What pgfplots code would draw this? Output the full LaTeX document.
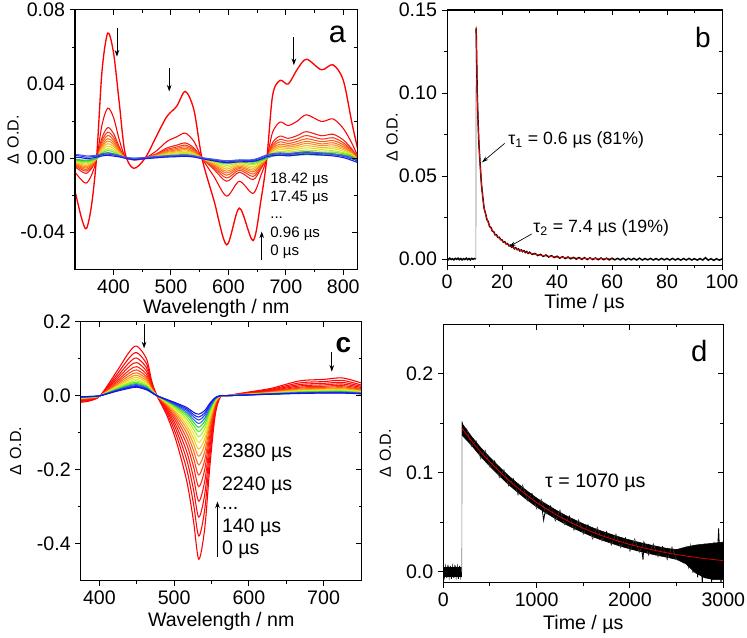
\documentclass[border=0pt]{standalone}
\usepackage{fontspec}
\setmainfont{Liberation Sans}
\usepackage{pgfplots}
\pgfplotsset{compat=1.18}
\usepackage{pgfplotstable}
\usetikzlibrary{arrows.meta}

\newcommand\tfs{\fontsize{14.7}{17}\selectfont}
\newcommand\lfs{\fontsize{12}{14}\selectfont}
\newcommand\afs{\fontsize{11.3}{13}\selectfont}
\newcommand\bfs{\fontsize{13.3}{15}\selectfont}

\definecolor{a0}{RGB}{255,0,0}
\definecolor{a2}{RGB}{242,30,25}
\definecolor{a3}{RGB}{246,60,25}
\definecolor{a4}{RGB}{250,90,25}
\definecolor{a5}{RGB}{250,115,30}
\definecolor{a6}{RGB}{250,145,30}
\definecolor{a7}{RGB}{245,185,35}
\definecolor{a8}{RGB}{225,220,40}
\definecolor{a9}{RGB}{185,230,45}
\definecolor{a10}{RGB}{125,225,40}
\definecolor{a11}{RGB}{60,210,45}
\definecolor{a12}{RGB}{40,190,90}
\definecolor{ab1}{RGB}{50,60,225}
\definecolor{ab2}{RGB}{25,25,235}
\definecolor{ab3}{RGB}{70,90,230}

\definecolor{k0}{RGB}{255,0,0}
\definecolor{k1}{RGB}{255,5,5}
\definecolor{k2}{RGB}{255,10,10}
\definecolor{k3}{RGB}{255,20,10}
\definecolor{k4}{RGB}{255,35,15}
\definecolor{k5}{RGB}{255,65,20}
\definecolor{k6}{RGB}{255,105,20}
\definecolor{k7}{RGB}{250,150,25}
\definecolor{k8}{RGB}{245,200,30}
\definecolor{k9}{RGB}{225,240,40}
\definecolor{k10}{RGB}{170,240,40}
\definecolor{k11}{RGB}{100,235,40}
\definecolor{k12}{RGB}{40,220,45}
\definecolor{k13}{RGB}{60,100,235}
\definecolor{k14}{RGB}{40,70,240}
\definecolor{k15}{RGB}{30,40,240}
\definecolor{k16}{RGB}{20,20,225}

\pgfplotstableread{
x    c0      c1      c2      c3      c4      c5      c6      c7      c8      c9      c10     c11     c12     b1      b2      b3
334 -0.0190 -0.0080 -0.0049 -0.0042 -0.0036 -0.0031 -0.0027 -0.0023 -0.0019 -0.0015 -0.0012 -0.0009 -0.0006  0.0015  0.0005  0.0020
345 -0.0330 -0.0120 -0.0073 -0.0062 -0.0054 -0.0047 -0.0041 -0.0035 -0.0029 -0.0023 -0.0018 -0.0013 -0.0010  0.0010  0.0002  0.0016
353 -0.0380 -0.0135 -0.0082 -0.0070 -0.0061 -0.0053 -0.0046 -0.0039 -0.0032 -0.0026 -0.0020 -0.0015 -0.0011  0.0005 -0.0003  0.0012
362 -0.0250 -0.0090 -0.0055 -0.0047 -0.0041 -0.0035 -0.0031 -0.0026 -0.0022 -0.0017 -0.0014 -0.0010 -0.0007  0.0008  0.0000  0.0013
371  0.0020  0.0000  0.0000  0.0000  0.0000  0.0000  0.0000  0.0000  0.0000  0.0000  0.0000  0.0000  0.0000  0.0012  0.0006  0.0016
380  0.0470  0.0180  0.0110  0.0094  0.0081  0.0070  0.0061  0.0052  0.0043  0.0034  0.0027  0.0020  0.0014  0.0020  0.0012  0.0024
390  0.0675  0.0270  0.0165  0.0140  0.0122  0.0105  0.0092  0.0078  0.0065  0.0051  0.0041  0.0030  0.0022  0.0022  0.0015  0.0028
400  0.0570  0.0220  0.0134  0.0114  0.0099  0.0086  0.0075  0.0064  0.0053  0.0042  0.0033  0.0024  0.0018  0.0018  0.0011  0.0022
410  0.0300  0.0100  0.0061  0.0052  0.0045  0.0039  0.0034  0.0029  0.0024  0.0019  0.0015  0.0011  0.0008  0.0012  0.0007  0.0015
420  0.0030  0.0010  0.0006  0.0005  0.0005  0.0004  0.0003  0.0003  0.0002  0.0002  0.0002  0.0001  0.0001  0.0003  0.0000  0.0006
435 -0.0055 -0.0010 -0.0006 -0.0005 -0.0005 -0.0004 -0.0003 -0.0003 -0.0002 -0.0002 -0.0002 -0.0001 -0.0001 -0.0005 -0.0008  0.0000
455  0.0000  0.0000  0.0000  0.0000  0.0000  0.0000  0.0000  0.0000  0.0000  0.0000  0.0000  0.0000  0.0000  0.0000 -0.0003  0.0004
475  0.0120  0.0040  0.0024  0.0021  0.0018  0.0016  0.0014  0.0012  0.0010  0.0008  0.0006  0.0004  0.0003  0.0006  0.0002  0.0009
493  0.0225  0.0090  0.0055  0.0047  0.0041  0.0035  0.0031  0.0026  0.0022  0.0017  0.0014  0.0010  0.0007  0.0010  0.0006  0.0013
510  0.0280  0.0115  0.0070  0.0060  0.0052  0.0045  0.0039  0.0033  0.0028  0.0022  0.0017  0.0013  0.0009  0.0013  0.0008  0.0016
525  0.0360  0.0135  0.0082  0.0070  0.0061  0.0053  0.0046  0.0039  0.0032  0.0026  0.0020  0.0015  0.0011  0.0015  0.0010  0.0018
540  0.0260  0.0090  0.0055  0.0047  0.0041  0.0035  0.0031  0.0026  0.0022  0.0017  0.0014  0.0010  0.0007  0.0010  0.0006  0.0013
554  0.0000  0.0000  0.0000  0.0000  0.0000  0.0000  0.0000  0.0000  0.0000  0.0000  0.0000  0.0000  0.0000  0.0000 -0.0003  0.0003
575 -0.0230 -0.0100 -0.0061 -0.0052 -0.0045 -0.0039 -0.0034 -0.0029 -0.0024 -0.0019 -0.0015 -0.0011 -0.0008 -0.0010 -0.0015 -0.0006
597 -0.0468 -0.0205 -0.0125 -0.0107 -0.0092 -0.0080 -0.0070 -0.0059 -0.0049 -0.0039 -0.0031 -0.0023 -0.0016 -0.0020 -0.0025 -0.0014
619 -0.0270 -0.0125 -0.0076 -0.0065 -0.0056 -0.0049 -0.0043 -0.0036 -0.0030 -0.0024 -0.0019 -0.0014 -0.0010 -0.0014 -0.0020 -0.0010
643 -0.0445 -0.0190 -0.0116 -0.0099 -0.0086 -0.0074 -0.0065 -0.0055 -0.0046 -0.0036 -0.0029 -0.0021 -0.0015 -0.0012 -0.0018 -0.0008
657 -0.0220 -0.0090 -0.0055 -0.0047 -0.0041 -0.0035 -0.0031 -0.0026 -0.0022 -0.0017 -0.0014 -0.0010 -0.0007  0.0002 -0.0005  0.0006
667  0.0000  0.0000  0.0000  0.0000  0.0000  0.0000  0.0000  0.0000  0.0000  0.0000  0.0000  0.0000  0.0000  0.0015  0.0008  0.0018
677  0.0340  0.0140  0.0085  0.0073  0.0063  0.0055  0.0048  0.0041  0.0034  0.0027  0.0021  0.0015  0.0011  0.0020  0.0013  0.0024
690  0.0420  0.0195  0.0119  0.0101  0.0088  0.0076  0.0066  0.0057  0.0047  0.0037  0.0029  0.0021  0.0016  0.0024  0.0016  0.0028
704  0.0400  0.0176  0.0107  0.0092  0.0079  0.0069  0.0060  0.0051  0.0042  0.0033  0.0026  0.0019  0.0014  0.0020  0.0012  0.0025
720  0.0480  0.0200  0.0122  0.0104  0.0090  0.0078  0.0068  0.0058  0.0048  0.0038  0.0030  0.0022  0.0016  0.0026  0.0018  0.0030
736  0.0534  0.0234  0.0143  0.0122  0.0105  0.0091  0.0080  0.0068  0.0056  0.0044  0.0035  0.0026  0.0019  0.0030  0.0022  0.0034
762  0.0477  0.0198  0.0121  0.0103  0.0089  0.0077  0.0067  0.0057  0.0048  0.0038  0.0030  0.0022  0.0016  0.0024  0.0017  0.0028
782  0.0504  0.0212  0.0129  0.0110  0.0095  0.0083  0.0072  0.0061  0.0051  0.0040  0.0032  0.0023  0.0017  0.0020  0.0012  0.0023
800  0.0420  0.0160  0.0098  0.0083  0.0072  0.0062  0.0054  0.0046  0.0038  0.0030  0.0024  0.0018  0.0013  0.0010  0.0003  0.0014
815  0.0190  0.0080  0.0049  0.0042  0.0036  0.0031  0.0027  0.0023  0.0019  0.0015  0.0012  0.0009  0.0006 -0.0004 -0.0012  0.0002
826  0.0036  0.0005  0.0000 -0.0005 -0.0008 -0.0010 -0.0012 -0.0014 -0.0016 -0.0018 -0.0020 -0.0022 -0.0024 -0.0015 -0.0025 -0.0008
}\tabA

\pgfplotstableread{
x   r0     r1      r2      r3      r4      r5      r6      r7      r8      r9      r10     r11     r12     r13     r14     r15     r16
374 -0.018 -0.0156 -0.0137 -0.0120 -0.0105 -0.0093 -0.0083 -0.0074 -0.0066 -0.0059 -0.0053 -0.0048 -0.0044 -0.0040 -0.0036 -0.0033 -0.003
387 -0.014 -0.0121 -0.0105 -0.0092 -0.0080 -0.0070 -0.0062 -0.0055 -0.0049 -0.0043 -0.0039 -0.0034 -0.0031 -0.0028 -0.0025 -0.0022 -0.002
401  0.000  0.0000  0.0000  0.0000  0.0000  0.0000  0.0000  0.0000  0.0000  0.0000  0.0000  0.0000  0.0000  0.0000  0.0000  0.0000  0.000
423  0.065  0.0565  0.0496  0.0438  0.0385  0.0343  0.0306  0.0274  0.0247  0.0223  0.0202  0.0184  0.0168  0.0154  0.0141  0.0131  0.012
440  0.118  0.1023  0.0896  0.0788  0.0690  0.0612  0.0543  0.0484  0.0435  0.0391  0.0352  0.0318  0.0288  0.0264  0.0239  0.0220  0.020
450  0.134  0.1162  0.1018  0.0896  0.0785  0.0696  0.0619  0.0552  0.0496  0.0446  0.0402  0.0363  0.0330  0.0302  0.0274  0.0252  0.023
463  0.100  0.0866  0.0756  0.0664  0.0580  0.0513  0.0454  0.0404  0.0362  0.0324  0.0290  0.0261  0.0236  0.0215  0.0194  0.0177  0.016
470  0.040  0.0349  0.0307  0.0272  0.0240  0.0214  0.0192  0.0173  0.0157  0.0142  0.0130  0.0118  0.0109  0.0101  0.0093  0.0086  0.008
477  0.000  0.0000  0.0000  0.0000  0.0000  0.0000  0.0000  0.0000  0.0000  0.0000  0.0000  0.0000  0.0000  0.0000  0.0000  0.0000  0.000
490 -0.052 -0.0453 -0.0398 -0.0352 -0.0310 -0.0276 -0.0247 -0.0222 -0.0201 -0.0182 -0.0165 -0.0150 -0.0138 -0.0127 -0.0117 -0.0108 -0.010
503 -0.124 -0.1074 -0.0938 -0.0824 -0.0720 -0.0637 -0.0564 -0.0502 -0.0450 -0.0403 -0.0361 -0.0325 -0.0294 -0.0268 -0.0242 -0.0221 -0.020
517 -0.232 -0.2000 -0.1740 -0.1520 -0.1320 -0.1160 -0.1020 -0.0900 -0.0800 -0.0710 -0.0630 -0.0560 -0.0500 -0.0450 -0.0400 -0.0360 -0.032
526 -0.340 -0.2928 -0.2545 -0.2220 -0.1925 -0.1689 -0.1483 -0.1306 -0.1158 -0.1025 -0.0907 -0.0804 -0.0716 -0.0642 -0.0568 -0.0509 -0.045
533 -0.442 -0.3793 -0.3283 -0.2852 -0.2460 -0.2146 -0.1872 -0.1637 -0.1441 -0.1264 -0.1108 -0.0970 -0.0853 -0.0755 -0.0657 -0.0578 -0.050
541 -0.358 -0.3071 -0.2658 -0.2308 -0.1990 -0.1736 -0.1513 -0.1322 -0.1163 -0.1020 -0.0893 -0.0782 -0.0686 -0.0607 -0.0527 -0.0464 -0.040
548 -0.187 -0.1603 -0.1386 -0.1202 -0.1035 -0.0901 -0.0785 -0.0684 -0.0601 -0.0526 -0.0459 -0.0400 -0.0350 -0.0309 -0.0267 -0.0233 -0.020
555 -0.052 -0.0445 -0.0384 -0.0332 -0.0285 -0.0247 -0.0215 -0.0186 -0.0163 -0.0142 -0.0123 -0.0106 -0.0092 -0.0081 -0.0069 -0.0059 -0.005
562 -0.003 -0.0025 -0.0021 -0.0018 -0.0015 -0.0013 -0.0011 -0.0009 -0.0007 -0.0006 -0.0005 -0.0004 -0.0003 -0.0002 -0.0001 -0.0001  0.000
570  0.000  0.0000  0.0000  0.0000  0.0000  0.0000  0.0000  0.0000  0.0000  0.0000  0.0000  0.0000  0.0000  0.0000  0.0000  0.0000  0.000
600  0.010  0.0087  0.0077  0.0068  0.0060  0.0054  0.0048  0.0043  0.0039  0.0036  0.0032  0.0030  0.0027  0.0025  0.0023  0.0022  0.002
630  0.020  0.0174  0.0154  0.0136  0.0120  0.0107  0.0096  0.0086  0.0078  0.0071  0.0065  0.0059  0.0054  0.0050  0.0046  0.0043  0.004
668  0.040  0.0346  0.0301  0.0264  0.0230  0.0203  0.0179  0.0159  0.0142  0.0126  0.0113  0.0101  0.0091  0.0082  0.0074  0.0067  0.006
700  0.044  0.0381  0.0333  0.0292  0.0255  0.0225  0.0200  0.0177  0.0159  0.0142  0.0127  0.0114  0.0103  0.0094  0.0085  0.0077  0.007
725  0.048  0.0414  0.0361  0.0316  0.0275  0.0242  0.0214  0.0189  0.0168  0.0150  0.0134  0.0119  0.0107  0.0097  0.0086  0.0078  0.007
751  0.034  0.0285  0.0249  0.0218  0.0190  0.0168  0.0148  0.0131  0.0117  0.0105  0.0093  0.0084  0.0075  0.0068  0.0061  0.0056  0.005
}\tabC

\pgfplotsset{
  base/.style={scale only axis, anchor=south west, clip=true,
    axis line style={line width=0.75pt},
    every tick/.style={line width=0.75pt, black},
    major tick length=4pt, minor tick length=2.4pt,
    scaled x ticks=false, scaled y ticks=false,
    /pgf/number format/assume math mode=true,
    /pgf/number format/1000 sep={},
    ticklabel style={font=\tfs}},
  main/.style={base, tick align=outside, xtick pos=left, ytick pos=left},
  mirror/.style={base, tick align=inside, xtick pos=right, ytick pos=right, xticklabels={}, yticklabels={}},
  xl/.style={every axis x label/.style={at={(rel axis cs:0.5,0)}, anchor=center, font=\tfs, yshift=#1}},
  yl/.style={every axis y label/.style={at={(rel axis cs:0,0.5)}, anchor=center, font=\lfs, xshift=#1, rotate=90}},
  yfmt/.style={yticklabel style={/pgf/number format/fixed, /pgf/number format/fixed zerofill, /pgf/number format/precision=#1}},
  pa/.style={at={(56.25pt,275.78pt)}, width=212pt, height=194.5pt, xmin=333, xmax=825, ymin=-0.06, ymax=0.08,
    xtick={400,500,600,700,800}, minor x tick num=1, ytick={-0.04,0,0.04,0.08}, minor y tick num=1},
  pb/.style={at={(335.25pt,279pt)}, width=206.25pt, height=191.25pt, xmin=0, xmax=100, ymin=-0.0036, ymax=0.15,
    xtick={0,20,40,60,80,100}, minor x tick num=1, ytick={0,0.05,0.1,0.15}, minor y tick num=1},
  pc/.style={at={(60.53pt,42.23pt)}, width=210.75pt, height=194.25pt, xmin=375, xmax=751, ymin=-0.5, ymax=0.2,
    xtick={400,500,600,700}, minor x tick num=1, ytick={-0.4,-0.2,0,0.2}, minor y tick num=1},
  pd/.style={at={(332.48pt,40.73pt)}, width=210pt, height=193.8pt, xmin=0, xmax=3000, ymin=-0.011, ymax=0.25,
    xtick={0,1000,2000,3000}, minor x tick num=1, ytick={0,0.1,0.2}, minor y tick num=1},
  sp/.style={line width=0.8pt, smooth, tension=0.5},
}

\begin{document}
\begin{tikzpicture}
\path[use as bounding box] (0,0) rectangle (560.25pt,477.75pt);

% ---------------- panel a ----------------
\begin{axis}[main, pa, yfmt=2, xl=-29.25pt, yl=-46.5pt, xlabel={Wavelength / nm}, ylabel={Δ\,\,O.D.}]
\addplot[sp, a0, line width=1pt] table[x=x,y=c0] \tabA;
\addplot[sp, a0] table[x=x,y=c1] \tabA;
\addplot[sp, a2] table[x=x,y=c2] \tabA;
\addplot[sp, a3] table[x=x,y=c3] \tabA;
\addplot[sp, a4] table[x=x,y=c4] \tabA;
\addplot[sp, a5] table[x=x,y=c5] \tabA;
\addplot[sp, a6] table[x=x,y=c6] \tabA;
\addplot[sp, a7] table[x=x,y=c7] \tabA;
\addplot[sp, a8] table[x=x,y=c8] \tabA;
\addplot[sp, a9] table[x=x,y=c9] \tabA;
\addplot[sp, a10] table[x=x,y=c10] \tabA;
\addplot[sp, a11] table[x=x,y=c11] \tabA;
\addplot[sp, a12] table[x=x,y=c12] \tabA;
\addplot[sp, ab1] table[x=x,y=b1] \tabA;
\addplot[sp, ab2] table[x=x,y=b2] \tabA;
\addplot[sp, ab3] table[x=x,y=b3] \tabA;
\draw[-{Stealth[length=5pt,width=3.5pt]}, line width=0.6pt] (axis cs:406,0.0702) -- (axis cs:406,0.0548);
\draw[-{Stealth[length=5pt,width=3.5pt]}, line width=0.6pt] (axis cs:497,0.0489) -- (axis cs:497,0.0360);
\draw[-{Stealth[length=5pt,width=3.5pt]}, line width=0.6pt] (axis cs:714,0.0653) -- (axis cs:714,0.0502);
\draw[-{Stealth[length=5pt,width=3.5pt]}, line width=0.6pt] (axis cs:658,-0.0549) -- (axis cs:658,-0.0396);
\node[anchor=base west, font=\afs, inner sep=0pt] at (axis cs:672.5,-0.0137) {18.42 µs};
\node[anchor=base west, font=\afs, inner sep=0pt] at (axis cs:672.5,-0.0236) {17.45 µs};
\node[anchor=base west, font=\afs, inner sep=0pt] at (axis cs:672.5,-0.0324) {...};
\node[anchor=base west, font=\afs, inner sep=0pt] at (axis cs:672.5,-0.0429) {0.96 µs};
\node[anchor=base west, font=\afs, inner sep=0pt] at (axis cs:672.5,-0.0524) {0 µs};
\node[font=\fontsize{23}{23}\selectfont] at (axis cs:789.6,0.0669) {a};
\end{axis}
\begin{axis}[mirror, pa]\end{axis}

% ---------------- panel b ----------------
\begin{axis}[main, pb, yfmt=2, xl=-28.5pt, yl=-41.25pt, xlabel={Time / µs}, ylabel={Δ\,\,O.D.}]
\addplot[black, line width=1.1pt] coordinates {
(0,0.0003) (0.5,-0.0004) (1,0.0005) (1.5,-0.0003) (2,0.0002) (2.5,-0.0005) (3,0.0004) (3.5,-0.0002)
(4,0.0005) (4.5,-0.0004) (5,0.0003) (5.5,-0.0005) (6,0.0002) (6.5,-0.0003) (7,0.0005) (7.5,-0.0004)
(8,0.0003) (8.5,-0.0005) (9,0.0004) (9.5,-0.0002) (10,0.0003) (10.5,0)};
\addplot[gray, line width=0.5pt] coordinates {(10.5,0) (10.6,0.14)};
\addplot[black, line width=1.1pt] coordinates {
(10.6,0.139) (10.8,0.119) (11.0,0.0995) (11.3,0.0825) (11.6,0.0695) (12.0,0.0585) (12.5,0.0455) (13.0,0.0375)
(13.5,0.0305) (14.0,0.0275) (14.5,0.0238) (15.0,0.0225) (15.5,0.0195) (16.0,0.019) (16.5,0.0168) (17.0,0.0165)
(17.5,0.0145) (18.0,0.0146) (18.5,0.013) (19,0.0131) (19.5,0.0117) (20,0.0115) (20.5,0.0101) (21,0.0104)
(21.5,0.0091) (22,0.0093) (22.5,0.0080) (23,0.0084) (23.5,0.0071) (24,0.0076) (24.5,0.0062) (25,0.0068)
(25.5,0.0056) (26,0.0061) (26.5,0.0049) (27,0.0055) (27.5,0.0044) (28,0.005) (28.5,0.0039) (29,0.0045)
(29.5,0.0034) (30,0.0041) (31,0.0028) (32,0.0034) (33,0.0021) (34,0.0028) (35,0.0016) (36,0.0024)
(37,0.0012) (38,0.002) (39,0.0009) (40,0.0017) (41,0.0005) (42,0.0014) (43,0.0003) (44,0.0012)
(45,0.0001) (46,0.001) (47,-0.0001) (48,0.0009) (49,-0.0002) (50,0.0008) (51,-0.0003) (52,0.0007)
(53,-0.0003) (54,0.0006) (55,-0.0004) (56,0.0006) (57,-0.0004) (58,0.0005) (59,-0.0005) (60,0.0005)
(61,-0.0005) (62,0.0004) (63,-0.0005) (64,0.0005) (65,-0.0006) (66,0.0004) (67,-0.0005) (68,0.0004)
(69,-0.0006) (70,0.0005) (71,-0.0006) (72,0.0003) (73,-0.0005) (74,0.0004) (75,-0.0006) (76,0.0003)
(77,-0.0006) (78,0.0004) (79,-0.0005) (80,0.0003) (81,-0.0006) (82,0.0004) (83,-0.0006) (84,0.0003)
(85,-0.0007) (86,0.0003) (87,-0.0006) (88,0.0004) (89,-0.0006) (90,0.0002) (91,-0.0007) (92,0.0003)
(93,-0.0006) (94,0.0008) (95,-0.0007) (96,0.0002) (97,-0.0008) (98,0.0002) (99,-0.0007) (100,0.0001)};
\addplot[red, line width=0.6pt, smooth] coordinates {
(10.6,0.140) (10.8,0.118) (11.0,0.100) (11.3,0.082) (11.6,0.070) (12.0,0.058) (12.5,0.046) (13.0,0.037)
(13.5,0.031) (14.0,0.027) (15.0,0.022) (16.0,0.0185) (17.0,0.016) (18.0,0.014) (20.0,0.011) (22.0,0.0088)
(24.0,0.0070) (26.0,0.0056) (28.0,0.0045) (30.0,0.0036) (33.0,0.0026) (36.0,0.0019) (40.0,0.0012)
(45.0,0.0007) (50.0,0.0004) (55.0,0.0002) (60.0,0.0001)};
\draw[-{Stealth[length=5pt,width=3pt]}, line width=0.5pt] (axis cs:21,0.0697) -- (axis cs:12.7,0.0582);
\draw[-{Stealth[length=5pt,width=3pt]}, line width=0.5pt] (axis cs:30.8,0.0151) -- (axis cs:22.6,0.0074);
\node[anchor=base west, font=\bfs, inner sep=0pt] at (axis cs:22.2,0.0689) {τ\textsubscript{1} = 0.6 µs (81\%)};
\node[anchor=base west, font=\bfs, inner sep=0pt] at (axis cs:31.3,0.0161) {τ\textsubscript{2} = 7.4 µs (19\%)};
\node[font=\fontsize{21}{21}\selectfont] at (axis cs:93.1,0.1336) {b};
\end{axis}
\begin{axis}[mirror, pb]\end{axis}

% ---------------- panel c ----------------
\begin{axis}[main, pc, yfmt=1, xl=-30.75pt, yl=-48.75pt, xlabel={Wavelength / nm}, ylabel={Δ\,\,O.D.}]
\addplot[sp, k0] table[x=x,y=r0] \tabC;
\addplot[sp, k1] table[x=x,y=r1] \tabC;
\addplot[sp, k2] table[x=x,y=r2] \tabC;
\addplot[sp, k3] table[x=x,y=r3] \tabC;
\addplot[sp, k4] table[x=x,y=r4] \tabC;
\addplot[sp, k5] table[x=x,y=r5] \tabC;
\addplot[sp, k6] table[x=x,y=r6] \tabC;
\addplot[sp, k7] table[x=x,y=r7] \tabC;
\addplot[sp, k8] table[x=x,y=r8] \tabC;
\addplot[sp, k9] table[x=x,y=r9] \tabC;
\addplot[sp, k10] table[x=x,y=r10] \tabC;
\addplot[sp, k11] table[x=x,y=r11] \tabC;
\addplot[sp, k12] table[x=x,y=r12] \tabC;
\addplot[sp, k13] table[x=x,y=r13] \tabC;
\addplot[sp, k14] table[x=x,y=r14] \tabC;
\addplot[sp, k15] table[x=x,y=r15] \tabC;
\addplot[sp, k16] table[x=x,y=r16] \tabC;
\draw[-{Stealth[length=5pt,width=3.5pt]}, line width=0.6pt] (axis cs:459.8,0.195) -- (axis cs:459.8,0.128);
\draw[-{Stealth[length=5pt,width=3.5pt]}, line width=0.6pt] (axis cs:711,0.119) -- (axis cs:711,0.065);
\draw[-{Stealth[length=5pt,width=3.5pt]}, line width=0.6pt] (axis cs:558,-0.435) -- (axis cs:558,-0.286);
\node[anchor=base west, font=\tfs, inner sep=0pt] at (axis cs:563.8,-0.167) {2380 µs};
\node[anchor=base west, font=\tfs, inner sep=0pt] at (axis cs:563.8,-0.257) {2240 µs};
\node[anchor=base west, font=\tfs, inner sep=0pt] at (axis cs:563.8,-0.307) {...};
\node[anchor=base west, font=\tfs, inner sep=0pt] at (axis cs:563.8,-0.369) {140 µs};
\node[anchor=base west, font=\tfs, inner sep=0pt] at (axis cs:563.8,-0.430) {0 µs};
\node[font=\fontsize{21}{21}\selectfont\bfseries] at (axis cs:726.6,0.137) {c};
\end{axis}
\begin{axis}[mirror, pc]\end{axis}

% ---------------- panel d ----------------
\begin{axis}[main, pd, yfmt=1, xl=-31.5pt, yl=-43.5pt, xlabel={Time / µs}, ylabel={Δ\,\,O.D.}]
\addplot[black, fill=black, line width=0.4pt] coordinates {
(0,0.0045) (197,0.0045) (197,-0.0045) (0,-0.0045)};
\addplot[black, line width=0.6pt] coordinates {
(0,0.006) (12.5,-0.005) (25,0.005) (37.5,-0.006) (50,0.007) (62.5,-0.005) (75,0.006) (87.5,-0.007)
(100,0.005) (112.5,-0.006) (125,0.007) (137.5,-0.005) (150,0.005) (162.5,-0.007) (175,0.006) (187.5,-0.005) (197,0.003)};
\addplot[gray, line width=0.5pt] coordinates {(198,0) (201,0.150)};
\addplot[black, fill=black, line width=0.4pt] coordinates {
(200,0.1500) (300,0.1370) (400,0.1255) (500,0.1155) (600,0.1060) (700,0.0970) (800,0.0890) (900,0.0815)
(1000,0.0745) (1100,0.0685) (1200,0.0627) (1300,0.0575) (1400,0.0528) (1500,0.0485) (1600,0.0445)
(1700,0.0410) (1800,0.0378) (1900,0.0348) (2000,0.0321) (2100,0.0297) (2200,0.0275) (2300,0.0255)
(2400,0.0236) (2500,0.0225) (2600,0.0250) (2700,0.0270) (2800,0.0280) (2900,0.0290) (3000,0.0300)
(3000,-0.0080) (2900,-0.0080) (2800,-0.0060) (2700,-0.0010) (2600,0.0080) (2500,0.0125) (2400,0.0146)
(2300,0.0165) (2200,0.0185) (2100,0.0207) (2000,0.0231) (1900,0.0258) (1800,0.0288) (1700,0.0320)
(1600,0.0355) (1500,0.0395) (1400,0.0438) (1300,0.0485) (1200,0.0537) (1100,0.0595) (1000,0.0655)
(900,0.0725) (800,0.0800) (700,0.0880) (600,0.0970) (500,0.1065) (400,0.1165) (300,0.1280) (200,0.1380)};
\addplot[black!75, line width=0.4pt] coordinates {
(250,0.1451) (300,0.1265) (350,0.1321) (400,0.1140) (450,0.1229) (500,0.1055) (550,0.1122) (600,0.0950)
(650,0.1034) (700,0.0865) (750,0.0939) (800,0.0775) (850,0.0877) (900,0.0715) (950,0.0794) (1000,0.0635)
(1050,0.0734) (1100,0.0580) (1150,0.0665) (1200,0.0512) (1250,0.0625) (1300,0.0475) (1350,0.0566) (1400,0.0418)
(1450,0.0526) (1500,0.0380) (1550,0.0475) (1600,0.0330) (1650,0.0452) (1700,0.0310) (1750,0.0409) (1800,0.0268)
(1850,0.0383) (1900,0.0243) (1950,0.0344) (2000,0.0206) (2050,0.0334) (2100,0.0197) (2150,0.0301) (2200,0.0165)
(2250,0.0285) (2300,0.0150) (2350,0.0255) (2400,0.0121) (2450,0.0253) (2500,0.0120)};
\addplot[black, line width=0.6pt] coordinates {
(200,0.152) (225,0.1389) (250,0.1418) (275,0.1316) (300,0.1345) (325,0.1276) (350,0.1318) (375,0.1209)
(400,0.125) (425,0.1155) (450,0.119) (475,0.1095) (500,0.113) (525,0.1066) (550,0.1113) (575,0.1009)
(600,0.1055) (625,0.0963) (650,0.100) (675,0.0908) (700,0.0945) (725,0.0885) (750,0.0935) (775,0.0835)
(800,0.0885) (825,0.0796) (850,0.0838) (875,0.0749) (900,0.079) (925,0.0733) (950,0.0785) (975,0.0688)
(1000,0.074) (1025,0.0655) (1050,0.070) (1075,0.052) (1100,0.066) (1125,0.0606) (1150,0.0661) (1175,0.0567)
(1200,0.0622) (1225,0.0539) (1250,0.0586) (1275,0.0503) (1300,0.055) (1325,0.0498) (1350,0.0557) (1375,0.0465)
(1400,0.0523) (1425,0.0442) (1450,0.0492) (1475,0.0411) (1500,0.046) (1525,0.041) (1550,0.047) (1575,0.038)
(1600,0.044) (1625,0.0361) (1650,0.0413) (1675,0.0334) (1700,0.0385) (1725,0.0337) (1750,0.0399) (1775,0.0311)
(1800,0.0373) (1825,0.0296) (1850,0.0348) (1875,0.0271) (1900,0.0323) (1925,0.0276) (1950,0.034) (1975,0.0253)
(2000,0.0316) (2025,0.024) (2050,0.0294) (2075,0.0218) (2100,0.0272) (2125,0.0227) (2140,0.012) (2150,0.0291)
(2175,0.0206) (2200,0.027) (2225,0.0195) (2250,0.025) (2275,0.0175) (2300,0.023) (2325,0.0185) (2350,0.025)
(2375,0.0166) (2400,0.0231) (2425,0.0157) (2450,0.0213) (2475,0.0139) (2500,0.0205) (2525,0.0131) (2550,0.0228)
(2575,0.0104) (2600,0.024) (2625,0.0056) (2650,0.0253) (2675,-0.001) (2700,0.0266) (2725,-0.0057) (2750,0.024)
(2775,-0.0113) (2800,0.0284) (2825,-0.0019) (2850,0.0249) (2875,-0.0114) (2900,0.0303) (2925,-0.0039) (2950,0.0438)
(2975,-0.0134) (3000,0.0313)};
\addplot[red!85!black, line width=0.6pt, smooth] coordinates {
(200,0.1450) (300,0.1325) (400,0.1210) (500,0.1110) (600,0.1015) (700,0.0925) (800,0.0845) (900,0.0770)
(1000,0.0700) (1100,0.0640) (1200,0.0582) (1300,0.0530) (1400,0.0483) (1500,0.0440) (1600,0.0400)
(1700,0.0365) (1800,0.0333) (1900,0.0303) (2000,0.0276) (2100,0.0252) (2200,0.0230) (2300,0.0210)
(2400,0.0191) (2500,0.0175) (2600,0.0160) (2700,0.0146) (2800,0.0134) (2900,0.0123) (3000,0.0113)};
\node[anchor=base west, font=\tfs, inner sep=0pt] at (axis cs:1089,0.0847) {τ = 1070 µs};
\node[font=\fontsize{22}{22}\selectfont] at (axis cs:2743,0.2228) {d};
\end{axis}
\begin{axis}[mirror, pd]\end{axis}
\end{tikzpicture}
\end{document}
